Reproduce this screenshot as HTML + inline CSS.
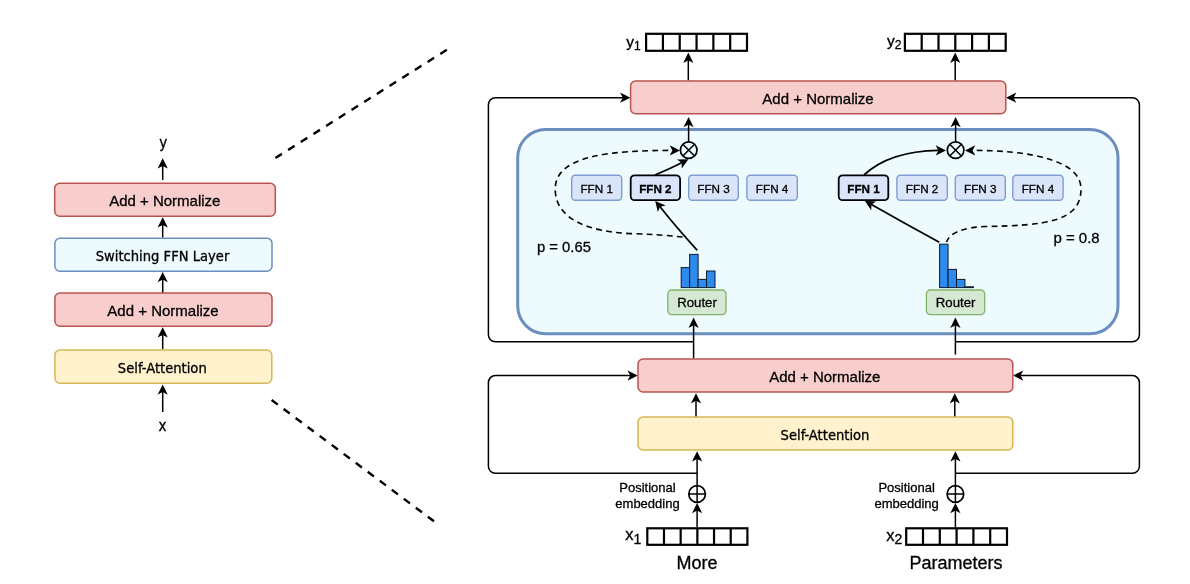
<!DOCTYPE html>
<html lang="en"><head><meta charset="utf-8"><title>Switch Transformer encoder block</title>
<style>
html,body{margin:0;padding:0;background:#fff;}
body{width:1190px;height:584px;overflow:hidden;font-family:"Liberation Sans",sans-serif;}
svg{display:block;will-change:transform;}
</style></head><body>
<svg role="img" aria-label="Switch Transformer encoder block diagram" width="1190" height="584" viewBox="0 0 1190 584" font-family="'Liberation Sans', sans-serif" fill="#000" stroke="none">
<style>text{stroke:#000;stroke-width:0.3px;paint-order:stroke fill}</style>
<rect width="1190" height="584" fill="#fff"/>
<path d="M162.7 412L162.7 390.4" stroke="#000" stroke-width="1.5" fill="none"/>
<path d="M162.70 384.40L167.80 394.70L162.70 392.00L157.60 394.70Z" fill="#000"/>
<path d="M162.7 349.4L162.7 333.3" stroke="#000" stroke-width="1.5" fill="none"/>
<path d="M162.70 327.30L167.80 337.60L162.70 334.90L157.60 337.60Z" fill="#000"/>
<path d="M162.7 293L162.7 278" stroke="#000" stroke-width="1.5" fill="none"/>
<path d="M162.70 272.00L167.80 282.30L162.70 279.60L157.60 282.30Z" fill="#000"/>
<path d="M162.7 237.6L162.7 223.3" stroke="#000" stroke-width="1.5" fill="none"/>
<path d="M162.70 217.30L167.80 227.60L162.70 224.90L157.60 227.60Z" fill="#000"/>
<path d="M162.7 180L162.7 164.3" stroke="#000" stroke-width="1.5" fill="none"/>
<path d="M162.70 158.30L167.80 168.60L162.70 165.90L157.60 168.60Z" fill="#000"/>
<rect x="54.7" y="183.2" width="220.60" height="33.00" rx="5" ry="5" fill="#F8CECC" stroke="#B85450" stroke-width="1.5"/>
<rect x="54.9" y="238.2" width="217.10" height="33.00" rx="5" ry="5" fill="#EDFAFE" stroke="#6C8EBF" stroke-width="1.5"/>
<rect x="54.9" y="293.1" width="217.10" height="33.10" rx="5" ry="5" fill="#F8CECC" stroke="#B85450" stroke-width="1.5"/>
<rect x="54.9" y="350" width="216.90" height="33.20" rx="5" ry="5" fill="#FFF2CC" stroke="#D6B656" stroke-width="1.5"/>
<text x="164.8" y="205.8" font-size="15" text-anchor="middle" font-weight="normal" >Add + Normalize</text>
<text x="162.5" y="261.2" font-size="14.6" text-anchor="middle" font-weight="normal" font-family="'DejaVu Sans Condensed', 'Liberation Sans', sans-serif">Switching FFN Layer</text>
<text x="163" y="315.6" font-size="15" text-anchor="middle" font-weight="normal" >Add + Normalize</text>
<text x="162.3" y="373.1" font-size="14.6" text-anchor="middle" font-weight="normal" font-family="'DejaVu Sans Condensed', 'Liberation Sans', sans-serif">Self-Attention</text>
<text x="163.2" y="147.5" font-size="15" text-anchor="middle" font-weight="normal" font-family="'DejaVu Sans Condensed', 'Liberation Sans', sans-serif">y</text>
<text x="162.6" y="431.2" font-size="15" text-anchor="middle" font-weight="normal" font-family="'DejaVu Sans Condensed', 'Liberation Sans', sans-serif">x</text>
<path d="M275.4 158L447.4 49.4" stroke="#000" stroke-width="2.4" stroke-dasharray="7.7 7.3" fill="none"/>
<path d="M271.6 400L434.4 521.6" stroke="#000" stroke-width="2.4" stroke-dasharray="7.7 7.3" fill="none"/>
<path d="M693.6 341.8L495.4 341.8A7 7 0 0 1 488.4 334.8L488.4 104.7A7 7 0 0 1 495.4 97.7L624.4 97.7" stroke="#000" stroke-width="1.5" fill="none"/>
<path d="M630.40 97.70L620.10 102.80L622.80 97.70L620.10 92.60Z" fill="#000"/>
<path d="M955.4 341.8L1132.4 341.8A7 7 0 0 0 1139.4 334.8L1139.4 104.7A7 7 0 0 0 1132.4 97.7L1012 97.7" stroke="#000" stroke-width="1.5" fill="none"/>
<path d="M1006.00 97.70L1016.30 92.60L1013.60 97.70L1016.30 102.80Z" fill="#000"/>
<path d="M697 473.3L495.4 473.3A7 7 0 0 1 488.4 466.3L488.4 382.6A7 7 0 0 1 495.4 375.6L631.8 375.6" stroke="#000" stroke-width="1.5" fill="none"/>
<path d="M637.80 375.60L627.50 380.70L630.20 375.60L627.50 370.50Z" fill="#000"/>
<path d="M955.4 473.3L1132.4 473.3A7 7 0 0 0 1139.4 466.3L1139.4 382.6A7 7 0 0 0 1132.4 375.6L1019 375.6" stroke="#000" stroke-width="1.5" fill="none"/>
<path d="M1013.00 375.60L1023.30 370.50L1020.60 375.60L1023.30 380.70Z" fill="#000"/>
<rect x="517.7" y="129.5" width="600.3" height="204.3" rx="28" ry="28" fill="#EDFAFE" stroke="#6C8EBF" stroke-width="3"/>
<path d="M688.3 80.4L688.3 58.6" stroke="#000" stroke-width="1.5" fill="none"/>
<path d="M688.30 52.60L693.40 62.90L688.30 60.20L683.20 62.90Z" fill="#000"/>
<path d="M955.2 80.4L955.2 58.6" stroke="#000" stroke-width="1.5" fill="none"/>
<path d="M955.20 52.60L960.30 62.90L955.20 60.20L950.10 62.90Z" fill="#000"/>
<path d="M688.6 142L688.6 122.9" stroke="#000" stroke-width="1.5" fill="none"/>
<path d="M688.60 116.90L693.70 127.20L688.60 124.50L683.50 127.20Z" fill="#000"/>
<path d="M955.6 142L955.6 122.9" stroke="#000" stroke-width="1.5" fill="none"/>
<path d="M955.60 116.90L960.70 127.20L955.60 124.50L950.50 127.20Z" fill="#000"/>
<path d="M693.6 358.4L693.6 323.6" stroke="#000" stroke-width="1.5" fill="none"/>
<path d="M693.60 317.60L698.70 327.90L693.60 325.20L688.50 327.90Z" fill="#000"/>
<path d="M955.4 354.6L955.4 323.6" stroke="#000" stroke-width="1.5" fill="none"/>
<path d="M955.40 317.60L960.50 327.90L955.40 325.20L950.30 327.90Z" fill="#000"/>
<path d="M696 417L696 399.2" stroke="#000" stroke-width="1.5" fill="none"/>
<path d="M696.00 393.20L701.10 403.50L696.00 400.80L690.90 403.50Z" fill="#000"/>
<path d="M954.8 417L954.8 399.2" stroke="#000" stroke-width="1.5" fill="none"/>
<path d="M954.80 393.20L959.90 403.50L954.80 400.80L949.70 403.50Z" fill="#000"/>
<path d="M697.1 486L697.1 457.3" stroke="#000" stroke-width="1.5" fill="none"/>
<path d="M697.10 451.30L702.20 461.60L697.10 458.90L692.00 461.60Z" fill="#000"/>
<path d="M955.4 486L955.4 457.3" stroke="#000" stroke-width="1.5" fill="none"/>
<path d="M955.40 451.30L960.50 461.60L955.40 458.90L950.30 461.60Z" fill="#000"/>
<path d="M697.1 527.5L697.1 508.9" stroke="#000" stroke-width="1.5" fill="none"/>
<path d="M697.10 502.90L702.20 513.20L697.10 510.50L692.00 513.20Z" fill="#000"/>
<path d="M955.4 527.5L955.4 508.9" stroke="#000" stroke-width="1.5" fill="none"/>
<path d="M955.40 502.90L960.50 513.20L955.40 510.50L950.30 513.20Z" fill="#000"/>
<rect x="630.6" y="81" width="375.20" height="32.80" rx="5" ry="5" fill="#F8CECC" stroke="#B85450" stroke-width="1.5"/>
<text x="818" y="104" font-size="15" text-anchor="middle" font-weight="normal" >Add + Normalize</text>
<rect x="638" y="359" width="374.80" height="33.00" rx="5" ry="5" fill="#F8CECC" stroke="#B85450" stroke-width="1.5"/>
<text x="824.8" y="382" font-size="15" text-anchor="middle" font-weight="normal" >Add + Normalize</text>
<rect x="638" y="417" width="374.80" height="33.00" rx="5" ry="5" fill="#FFF2CC" stroke="#D6B656" stroke-width="1.5"/>
<text x="825" y="440.4" font-size="14.6" text-anchor="middle" font-weight="normal" font-family="'DejaVu Sans Condensed', 'Liberation Sans', sans-serif">Self-Attention</text>
<rect x="571.6999999999999" y="175.3" width="50.00" height="24.90" rx="3.5" ry="3.5" fill="#DAE5FA" stroke="#809DD2" stroke-width="1.4"/>
<text x="596.7" y="192.6" font-size="11.7" text-anchor="middle" font-weight="normal" >FFN 1</text>
<rect x="630.6999999999999" y="175.3" width="49.40" height="24.90" rx="4" ry="4" fill="#DAE5FA" stroke="#000" stroke-width="1.8"/>
<text x="655.4" y="192.6" font-size="11.7" text-anchor="middle" font-weight="bold" >FFN 2</text>
<rect x="688.6999999999999" y="175.3" width="49.60" height="24.90" rx="3.5" ry="3.5" fill="#DAE5FA" stroke="#809DD2" stroke-width="1.4"/>
<text x="713.5" y="192.6" font-size="11.7" text-anchor="middle" font-weight="normal" >FFN 3</text>
<rect x="746.9" y="175.3" width="50.40" height="24.90" rx="3.5" ry="3.5" fill="#DAE5FA" stroke="#809DD2" stroke-width="1.4"/>
<text x="772.1" y="192.6" font-size="11.7" text-anchor="middle" font-weight="normal" >FFN 4</text>
<rect x="838.6999999999999" y="175.3" width="49.60" height="24.90" rx="4" ry="4" fill="#DAE5FA" stroke="#000" stroke-width="1.8"/>
<text x="863.5" y="192.6" font-size="11.7" text-anchor="middle" font-weight="bold" >FFN 1</text>
<rect x="896.9" y="175.3" width="50.40" height="24.90" rx="3.5" ry="3.5" fill="#DAE5FA" stroke="#809DD2" stroke-width="1.4"/>
<text x="922.1" y="192.6" font-size="11.7" text-anchor="middle" font-weight="normal" >FFN 2</text>
<rect x="955.3" y="175.3" width="50.00" height="24.90" rx="3.5" ry="3.5" fill="#DAE5FA" stroke="#809DD2" stroke-width="1.4"/>
<text x="980.3" y="192.6" font-size="11.7" text-anchor="middle" font-weight="normal" >FFN 3</text>
<rect x="1012.8" y="175.3" width="50.30" height="24.90" rx="3.5" ry="3.5" fill="#DAE5FA" stroke="#809DD2" stroke-width="1.4"/>
<text x="1037.95" y="192.6" font-size="11.7" text-anchor="middle" font-weight="normal" >FFN 4</text>
<circle cx="688.7" cy="150.1" r="8.3" fill="none" stroke="#000" stroke-width="1.7"/>
<path d="M682.83 144.23L694.57 155.97M694.57 144.23L682.83 155.97" stroke="#000" stroke-width="1.5" fill="none"/>
<circle cx="955.6" cy="150.1" r="8.3" fill="none" stroke="#000" stroke-width="1.7"/>
<path d="M949.73 144.23L961.47 155.97M961.47 144.23L949.73 155.97" stroke="#000" stroke-width="1.5" fill="none"/>
<circle cx="697.1" cy="494" r="8.3" fill="#fff" stroke="#000" stroke-width="1.7"/>
<path d="M688.80 494L705.40 494M697.1 485.70L697.1 502.30" stroke="#000" stroke-width="1.5" fill="none"/>
<circle cx="955.4" cy="494" r="8.3" fill="#fff" stroke="#000" stroke-width="1.7"/>
<path d="M947.10 494L963.70 494M955.4 485.70L955.4 502.30" stroke="#000" stroke-width="1.5" fill="none"/>
<rect x="667.8" y="290" width="58.20" height="24.60" rx="4" ry="4" fill="#D5E8D4" stroke="#82B366" stroke-width="1.3"/>
<text x="697" y="307" font-size="13.2" text-anchor="middle" font-weight="normal" >Router</text>
<rect x="926.4" y="290" width="58.30" height="24.60" rx="4" ry="4" fill="#D5E8D4" stroke="#82B366" stroke-width="1.3"/>
<text x="955.6" y="307" font-size="13.2" text-anchor="middle" font-weight="normal" >Router</text>
<rect x="681.20" y="267.6" width="8.45" height="20.00" fill="#2E8BEE" stroke="#0a1a30" stroke-width="1"/>
<rect x="689.65" y="254.4" width="8.45" height="33.20" fill="#2E8BEE" stroke="#0a1a30" stroke-width="1"/>
<rect x="698.10" y="279.4" width="8.45" height="8.20" fill="#2E8BEE" stroke="#0a1a30" stroke-width="1"/>
<rect x="706.55" y="271" width="8.45" height="16.60" fill="#2E8BEE" stroke="#0a1a30" stroke-width="1"/>
<rect x="939.60" y="244.2" width="8.45" height="43.40" fill="#2E8BEE" stroke="#0a1a30" stroke-width="1"/>
<rect x="948.05" y="269.4" width="8.45" height="18.20" fill="#2E8BEE" stroke="#0a1a30" stroke-width="1"/>
<rect x="956.50" y="279.4" width="8.45" height="8.20" fill="#2E8BEE" stroke="#0a1a30" stroke-width="1"/>
<rect x="964.95" y="286.8" width="8.45" height="0.80" fill="#2E8BEE" stroke="#0a1a30" stroke-width="1"/>
<path d="M697.3 250.3 Q675 226 659.3 205.8" stroke="#000" stroke-width="1.75" fill="none"/>
<path d="M655.20 200.90L665.70 205.57L660.05 206.75L657.85 212.08Z" fill="#000"/>
<path d="M655 175 Q672 168 682 162.6" stroke="#000" stroke-width="1.75" fill="none"/>
<path d="M688.40 159.20L681.70 168.54L681.69 162.77L676.91 159.53Z" fill="#000"/>
<path d="M672.6 150.4 C 612 150.4, 555.2 155, 555.2 189 C 555.2 220, 590 231.5, 630 233.6 C 650 234.2, 668 235.4, 684 237.2" stroke="#000" stroke-width="1.6" fill="none" stroke-dasharray="5.8 4.3" stroke-dashoffset="5.8"/>
<path d="M680.00 150.40L669.70 155.50L672.40 150.40L669.70 145.30Z" fill="#000"/>
<path d="M939.3 242.3 Q905 223.5 871 204.2" stroke="#000" stroke-width="1.75" fill="none"/>
<path d="M864.80 200.80L876.28 201.40L871.42 204.53L871.28 210.29Z" fill="#000"/>
<path d="M864 175 C 880 160, 905 151, 938.6 150.4" stroke="#000" stroke-width="1.75" fill="none"/>
<path d="M946.00 150.40L935.70 155.50L938.40 150.40L935.70 145.30Z" fill="#000"/>
<path d="M972.4 150.4 C 1030 150.4, 1081 160, 1081 189 C 1081 222, 1045 225.5, 985 226.5 C 965 227.5, 950 232, 946.5 242" stroke="#000" stroke-width="1.6" fill="none" stroke-dasharray="5.8 4.3" stroke-dashoffset="5.8"/>
<path d="M965.00 150.40L975.30 145.30L972.60 150.40L975.30 155.50Z" fill="#000"/>
<text x="537" y="251.6" font-size="14.8" text-anchor="start" font-weight="normal" >p = 0.65</text>
<text x="1053.4" y="243.4" font-size="15" text-anchor="start" font-weight="normal" >p = 0.8</text>
<rect x="646.1" y="33.8" width="100.90" height="17.00" fill="#fff" stroke="#000" stroke-width="2.2"/>
<path d="M662.92 33.8L662.92 50.8M679.73 33.8L679.73 50.8M696.55 33.8L696.55 50.8M713.37 33.8L713.37 50.8M730.18 33.8L730.18 50.8" stroke="#000" stroke-width="2.2" fill="none"/>
<rect x="904.9" y="33.8" width="100.80" height="17.00" fill="#fff" stroke="#000" stroke-width="2.2"/>
<path d="M921.70 33.8L921.70 50.8M938.50 33.8L938.50 50.8M955.30 33.8L955.30 50.8M972.10 33.8L972.10 50.8M988.90 33.8L988.90 50.8" stroke="#000" stroke-width="2.2" fill="none"/>
<rect x="647.3" y="528.3" width="100.10" height="16.50" fill="#fff" stroke="#000" stroke-width="2.2"/>
<path d="M663.98 528.3L663.98 544.8M680.67 528.3L680.67 544.8M697.35 528.3L697.35 544.8M714.03 528.3L714.03 544.8M730.72 528.3L730.72 544.8" stroke="#000" stroke-width="2.2" fill="none"/>
<rect x="906.2" y="528.3" width="100.80" height="16.50" fill="#fff" stroke="#000" stroke-width="2.2"/>
<path d="M923.00 528.3L923.00 544.8M939.80 528.3L939.80 544.8M956.60 528.3L956.60 544.8M973.40 528.3L973.40 544.8M990.20 528.3L990.20 544.8" stroke="#000" stroke-width="2.2" fill="none"/>
<text x="640.8" y="46.6" font-size="15.5" text-anchor="end">y<tspan font-size="12" dy="3">1</tspan></text>
<text x="901.4" y="46.4" font-size="15.5" text-anchor="end">y<tspan font-size="12" dy="3">2</tspan></text>
<text x="641.2" y="540.3" font-size="16.5" text-anchor="end">x<tspan font-size="14" dy="3.8">1</tspan></text>
<text x="902.2" y="540.6" font-size="16.5" text-anchor="end">x<tspan font-size="14" dy="3.8">2</tspan></text>
<text x="647.5" y="491.8" font-size="13" text-anchor="middle" font-weight="normal" >Positional</text>
<text x="647.5" y="507.8" font-size="13" text-anchor="middle" font-weight="normal" >embedding</text>
<text x="906.6" y="491.8" font-size="13" text-anchor="middle" font-weight="normal" >Positional</text>
<text x="906.6" y="507.8" font-size="13" text-anchor="middle" font-weight="normal" >embedding</text>
<text x="697" y="568.7" font-size="18" text-anchor="middle" font-weight="normal" >More</text>
<text x="956" y="568.7" font-size="18" text-anchor="middle" font-weight="normal" >Parameters</text>
</svg>
</body></html>
